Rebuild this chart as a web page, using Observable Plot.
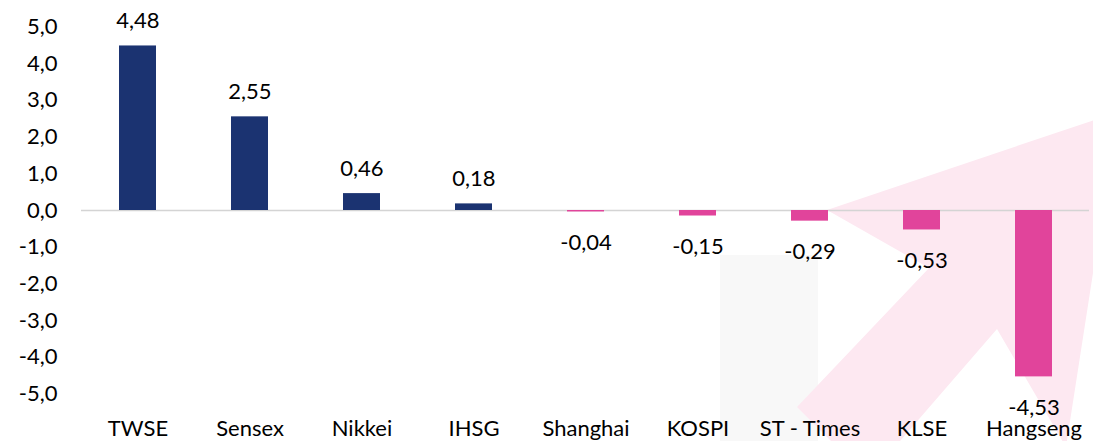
<!DOCTYPE html>
<html>
<head>
<meta charset="utf-8">
<script src="https://cdn.jsdelivr.net/npm/d3@7"></script>
<script src="https://cdn.jsdelivr.net/npm/@observablehq/plot@0.6"></script>
<style>
  html, body { margin: 0; padding: 0; background: #fff; }
  #chart svg { display: block; }
</style>
</head>
<body>
<div id="chart"></div>
<script>
const categories = ["TWSE", "Sensex", "Nikkei", "IHSG", "Shanghai", "KOSPI", "ST - Times", "KLSE", "Hangseng"];
const values = [4.48, 2.55, 0.46, 0.18, -0.04, -0.15, -0.29, -0.53, -4.53];
const yTicks = [-5, -4, -3, -2, -1, 0, 1, 2, 3, 4, 5];

const data = categories.map((c, i) => ({name: c, value: values[i]}));
const fmt = (d, n) => d.toFixed(n).replace(".", ",");
const navy = "#1b3371";
const pink = "#e1449b";

const chart = Plot.plot({
  width: 1093,
  height: 441,
  marginLeft: 81,
  marginRight: 4,
  marginTop: 8,
  marginBottom: 29,
  style: {fontFamily: "Lato, 'Open Sans', sans-serif", fontSize: "22px", color: "#000", background: "transparent"},
  x: {domain: categories, paddingInner: 0.67, paddingOuter: 0.335, label: null},
  y: {domain: [-5.5, 5.5], label: null},
  marks: [
    Plot.axisY({ticks: yTicks, tickSize: 0, tickPadding: 24, tickFormat: d => fmt(d, 1), fontSize: 22}),
    Plot.axisX({tickSize: 0, tickPadding: 8, fontSize: 22}),
    Plot.ruleY([0], {stroke: "#d4d4d4", strokeWidth: 1.5}),
    Plot.barY(data, {x: "name", y: "value", fill: d => d.value >= 0 ? navy : pink}),
    Plot.text(data.filter(d => d.value >= 0), {x: "name", y: "value", text: d => fmt(d.value, 2), lineAnchor: "middle", dy: -25, fontSize: 22, fill: "#000"}),
    Plot.text(data.filter(d => d.value < 0), {x: "name", y: "value", text: d => fmt(d.value, 2), lineAnchor: "middle", dy: 31, fontSize: 22, fill: "#000"})
  ]
});

// decorative watermark behind the chart (background graphic, not data)
const svg = d3.select(chart);
const deco = svg.insert("g", ":first-child").attr("class", "watermark");
deco.append("rect").attr("x", 0).attr("y", 0).attr("width", 1093).attr("height", 441).attr("fill", "#fff");
deco.append("rect").attr("x", 720).attr("y", 255).attr("width", 98).attr("height", 186).attr("fill", "#f8f8f8");
deco.append("polygon")
  .attr("points", "1118,112 827,210 929,268 797,407 868,478 997,329 1066,447")
  .attr("fill", "#fde8f1");

document.getElementById("chart").appendChild(chart);
</script>
</body>
</html>
